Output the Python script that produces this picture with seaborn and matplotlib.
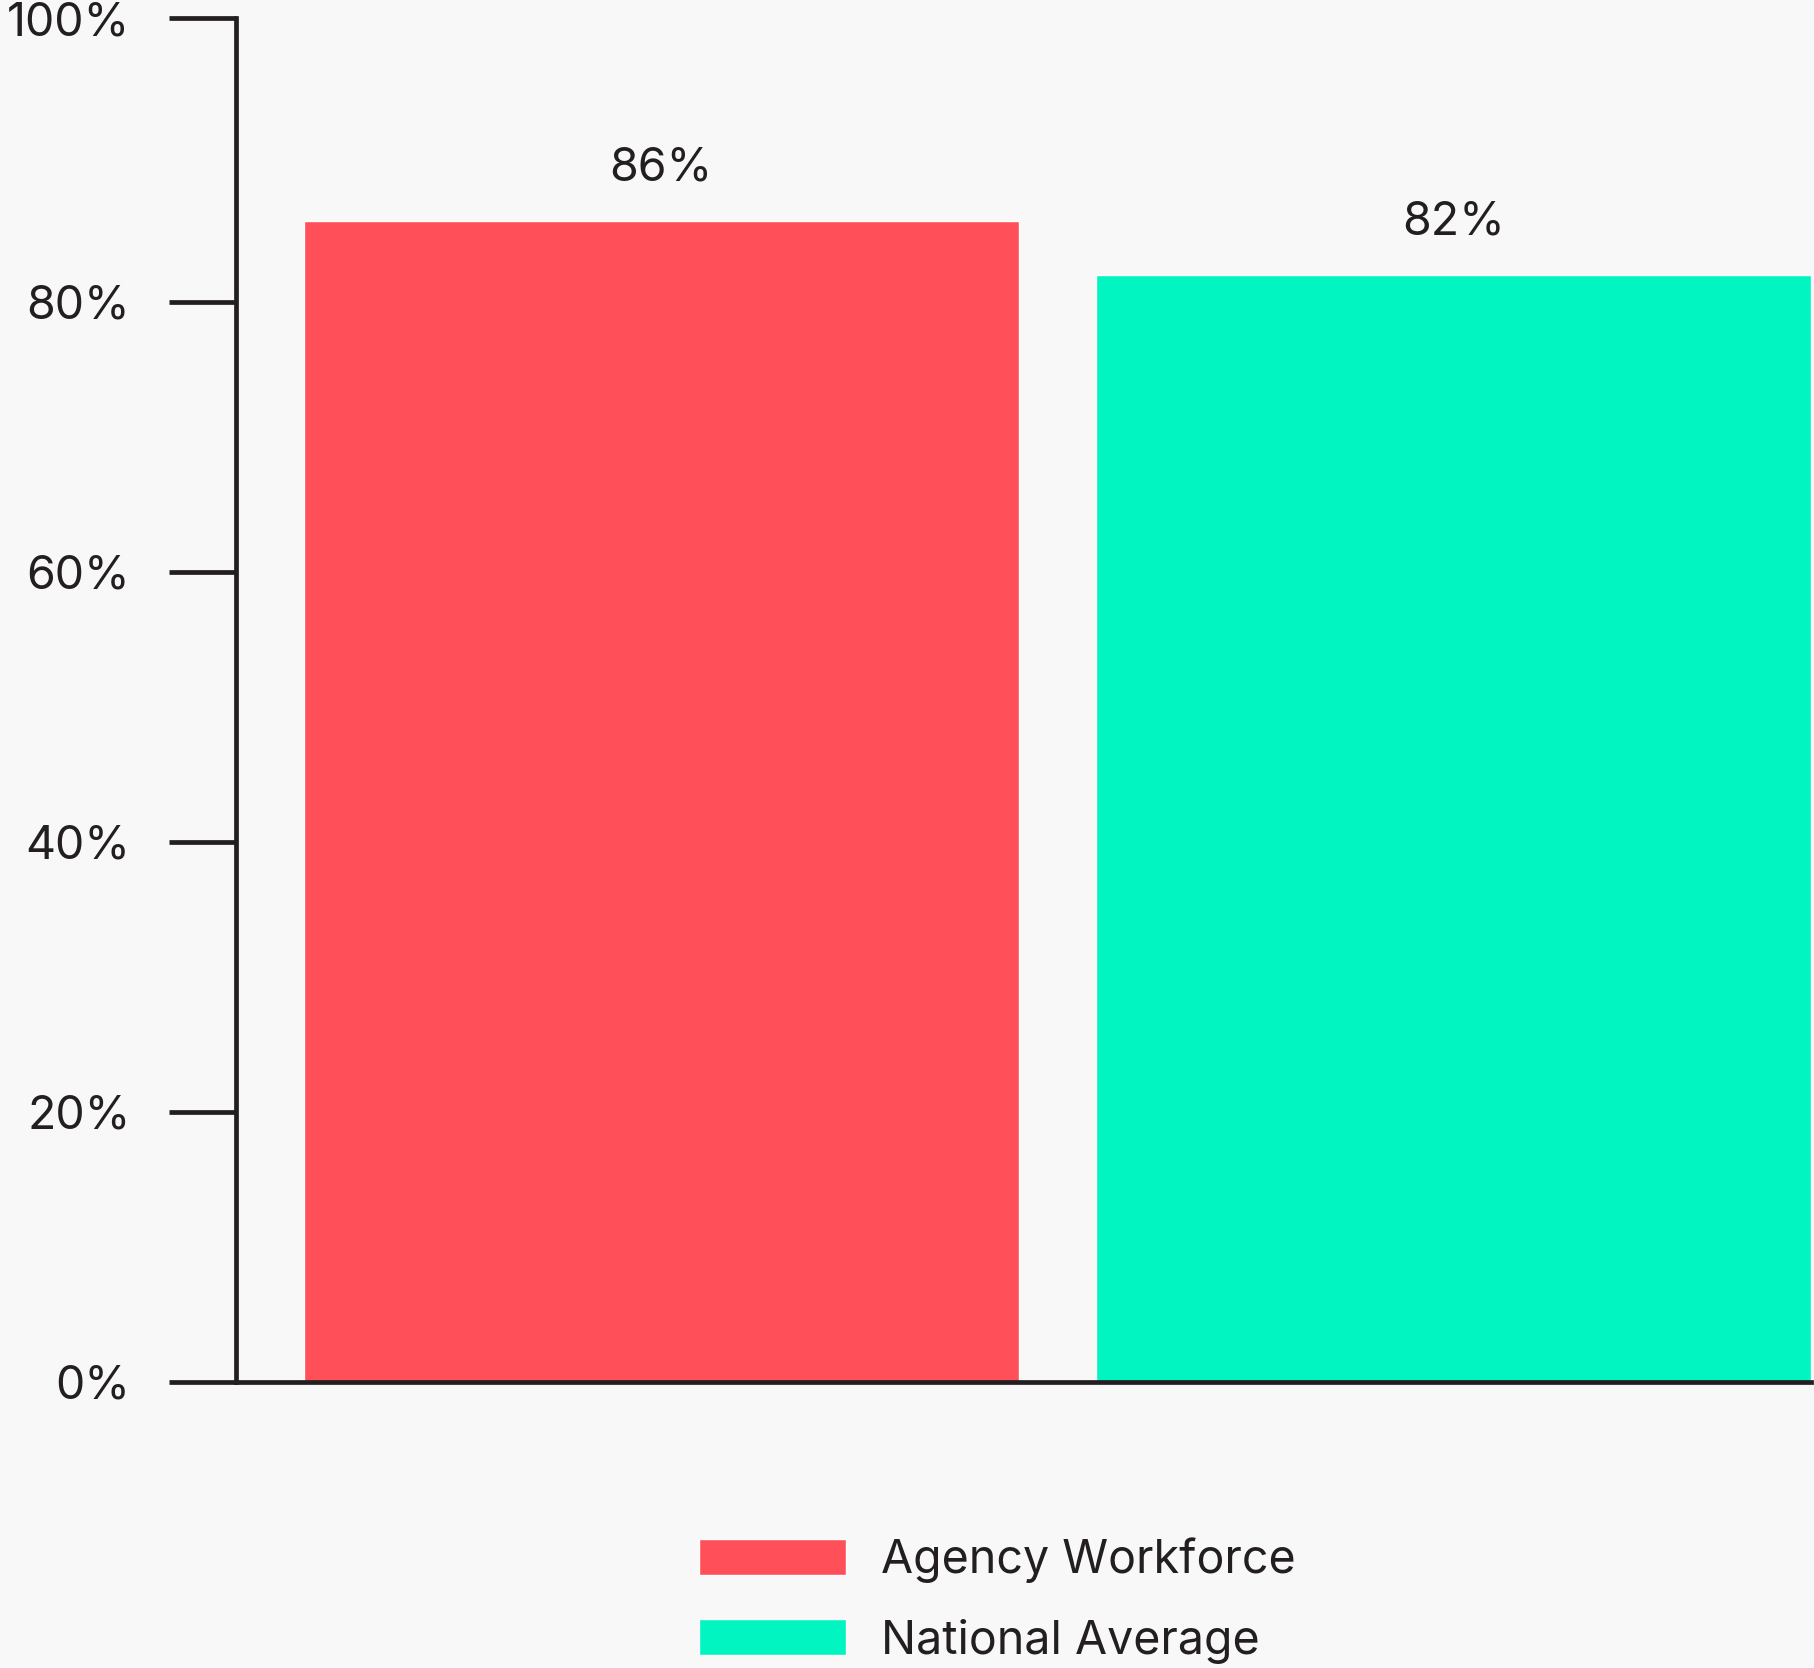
import matplotlib
matplotlib.use("Agg")
import matplotlib.pyplot as plt
import seaborn as sns
import pandas as pd

# Share of workforce, percent
categories = ["Agency Workforce", "National Average"]
values = [86, 82]
bar_colors = ["#FF4F59", "#00F5C0"]
tick_values = [0, 20, 40, 60, 80, 100]
tick_labels = ["0%", "20%", "40%", "60%", "80%", "100%"]

bg = "#F8F8F8"
ink = "#231F20"
fs = 33.5

sns.set_theme(style="white")
plt.rcParams["font.family"] = ["Inter", "DejaVu Sans"]

W, H, DPI = 1815, 1668, 100
fig = plt.figure(figsize=(W / DPI, H / DPI), dpi=DPI, facecolor=bg)
ax = fig.add_axes([236 / W, 1 - 1381.5 / H, (1811 - 236) / W, (1381.5 - 18.5) / H])
ax.set_facecolor(bg)

df = pd.DataFrame({"group": categories, "share": values})
sns.barplot(data=df, x="group", y="share", hue="group", palette=bar_colors,
            width=0.903, ax=ax, legend=True, saturation=1)

handles, labels = ax.get_legend_handles_labels()
ax.get_legend().remove()

for cont in ax.containers:
    ax.bar_label(cont, labels=[f"{v:.0f}%" for v in cont.datavalues],
                 padding=22, fontsize=fs, color=ink)

top = 100.97
ax.set_ylim(0, top)
ax.set_xlim(-0.537, 1.4515)
ax.set_yticks([t if t < 100 else top for t in tick_values])
ax.set_yticklabels(tick_labels)
ax.set_xticks([])
ax.set_xlabel("")
ax.set_ylabel("")

for side in ("top", "right"):
    ax.spines[side].set_visible(False)
for side in ("left", "bottom"):
    ax.spines[side].set_color(ink)
    ax.spines[side].set_linewidth(3.4)
ax.tick_params(axis="y", direction="out", length=48, width=3.4, color=ink,
               pad=28, labelsize=fs, labelcolor=ink, left=True)

fig.legend(handles, labels, loc="center", bbox_to_anchor=(997 / W, 1 - 1600.5 / H),
           frameon=False, fontsize=fs, handlelength=3.16, handleheight=0.82,
           handletextpad=0.75, labelspacing=0.76, labelcolor=ink)

fig.savefig("out.png", dpi=DPI, facecolor=bg)
